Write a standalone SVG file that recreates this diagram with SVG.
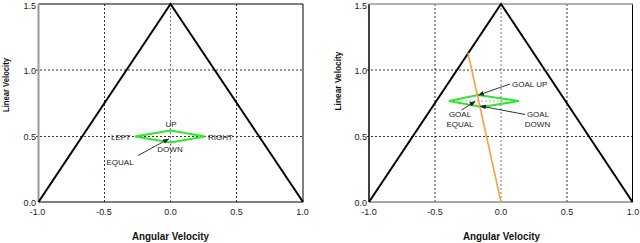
<svg xmlns="http://www.w3.org/2000/svg" width="640" height="243" viewBox="0 0 640 243">
<defs>
<style>
.grid{stroke:#333;stroke-width:1;stroke-dasharray:2,2;fill:none}
.tri{stroke:#000;stroke-width:2;fill:none;stroke-linejoin:miter}
.fr{stroke:#000;stroke-width:1;fill:none}
.frg{stroke:#999;stroke-width:2;fill:none}
.dia{stroke:#2ee82e;stroke-width:2;fill:none}
.arr{stroke:#333;stroke-width:1;fill:none;marker-end:url(#ah)}
.tk{font-family:"Liberation Sans",Arial,sans-serif;font-size:9px;fill:#222}
.lb{font-family:"Liberation Sans",Arial,sans-serif;font-size:8px;fill:#222}
.ax{font-family:"Liberation Sans",Arial,sans-serif;font-size:10px;font-weight:bold;fill:#111}
</style>
<marker id="ah" viewBox="0 0 10 10" refX="9" refY="5" markerWidth="6" markerHeight="6" orient="auto" markerUnits="userSpaceOnUse">
<path d="M0,1 L10,5 L0,9 Z" fill="#222"/>
</marker>
</defs>
<rect width="640" height="243" fill="#fff"/>

<g id="plot-left">
<g id="left-grid">
<line class="grid" x1="104.5" y1="4" x2="104.5" y2="202"/>
<line class="grid" x1="170.5" y1="4" x2="170.5" y2="202" style="stroke:#777"/>
<line class="grid" x1="236.5" y1="4" x2="236.5" y2="202"/>
<line class="grid" x1="36" y1="70" x2="303" y2="70"/>
<line class="grid" x1="36" y1="136.5" x2="303" y2="136.5"/>
</g>
<g id="left-frame">
<polyline class="fr" points="38.5,4 303,4 303,202 38.5,202"/>
<line class="frg" x1="38.5" y1="4" x2="38.5" y2="202"/>
</g>
<polyline id="left-triangle" class="tri" points="38.5,202 170.5,4 303,202"/>
<polygon id="left-diamond" class="dia" points="135,136.5 170.5,130.5 205,136.5 170.5,142.5"/>
<g id="left-ticks" class="tk">
<text x="36" y="8.5" text-anchor="end">1.5</text>
<text x="36" y="73.5" text-anchor="end">1.0</text>
<text x="36" y="139.5" text-anchor="end">0.5</text>
<text x="36" y="205.5" text-anchor="end">0.0</text>
<text x="37.5" y="214.5" text-anchor="middle">-1.0</text>
<text x="104" y="214.5" text-anchor="middle">-0.5</text>
<text x="170.5" y="214.5" text-anchor="middle">0.0</text>
<text x="236.5" y="214.5" text-anchor="middle">0.5</text>
<text x="302.5" y="214.5" text-anchor="middle">1.0</text>
</g>
<text class="ax" x="170.5" y="240" text-anchor="middle" textLength="77" lengthAdjust="spacingAndGlyphs">Angular Velocity</text>
<text class="ax" transform="translate(8.5,85) rotate(-90)" x="0" y="0" text-anchor="middle" style="font-size:9px" textLength="54" lengthAdjust="spacingAndGlyphs">Linear Velocity</text>
<g id="left-labels" class="lb">
<text x="171" y="127" text-anchor="middle">UP</text>
<text x="130.5" y="139.5" text-anchor="end">LEFT</text>
<text x="208" y="139.5">RIGHT</text>
<text x="170" y="152" text-anchor="middle">DOWN</text>
<text x="106.5" y="165">EQUAL</text>
</g>
</g>

<g id="plot-right">
<g id="right-grid">
<line class="grid" x1="435" y1="4" x2="435" y2="202"/>
<line class="grid" x1="501" y1="4" x2="501" y2="202" style="stroke:#777"/>
<line class="grid" x1="567" y1="4" x2="567" y2="202"/>
<line class="grid" x1="367" y1="70" x2="633" y2="70"/>
<line class="grid" x1="367" y1="136.5" x2="633" y2="136.5"/>
</g>
<g id="right-frame">
<line class="fr" x1="369" y1="4" x2="369" y2="202" style="stroke-width:1.5"/>
<line class="fr" x1="632.5" y1="4" x2="632.5" y2="202"/>
<line class="fr" x1="369" y1="4" x2="633" y2="4" style="stroke:#999;stroke-width:1.5"/>
<line class="fr" x1="369" y1="202" x2="633" y2="202" style="stroke:#888;stroke-width:1.5"/>
</g>
<polyline id="right-triangle" class="tri" points="369,202 501,4 632.5,202"/>
<line id="right-guide" x1="457" y1="101" x2="508" y2="101" stroke="#aaa" stroke-width="1" stroke-dasharray="2,2"/>
<polygon id="right-diamond" class="dia" points="449,101 478,95 519,101 482,107"/>
<line id="right-orange" x1="468" y1="53" x2="501" y2="202" stroke="#f5a14c" stroke-width="1.6"/>
<g id="right-ticks" class="tk">
<text x="367" y="8.5" text-anchor="end">1.5</text>
<text x="367" y="73.5" text-anchor="end">1.0</text>
<text x="367" y="139.5" text-anchor="end">0.5</text>
<text x="367" y="205.5" text-anchor="end">0.0</text>
<text x="369" y="214.5" text-anchor="middle">-1.0</text>
<text x="435" y="214.5" text-anchor="middle">-0.5</text>
<text x="501" y="214.5" text-anchor="middle">0.0</text>
<text x="567" y="214.5" text-anchor="middle">0.5</text>
<text x="633" y="214.5" text-anchor="middle">1.0</text>
</g>
<text class="ax" x="501.5" y="240" text-anchor="middle" textLength="77" lengthAdjust="spacingAndGlyphs">Angular Velocity</text>
<text class="ax" transform="translate(341,81) rotate(-90)" x="0" y="0" text-anchor="middle" style="font-size:9.5px" textLength="59" lengthAdjust="spacingAndGlyphs">Linear Velocity</text>
<g id="right-labels" class="lb">
<text x="512" y="87">GOAL UP</text>
<text x="460" y="117" text-anchor="middle">GOAL</text>
<text x="460" y="127" text-anchor="middle">EQUAL</text>
<text x="538" y="117" text-anchor="middle">GOAL</text>
<text x="537.5" y="127" text-anchor="middle">DOWN</text>
</g>
</g>

<g id="connectors">
<line class="arr" x1="138" y1="155.5" x2="168.5" y2="139"/>
<line class="arr" x1="510" y1="84" x2="478.5" y2="95"/>
<line class="arr" x1="461.5" y1="110" x2="475" y2="101.5"/>
<line class="arr" x1="525" y1="114.5" x2="480.5" y2="106"/>
</g>
</svg>
